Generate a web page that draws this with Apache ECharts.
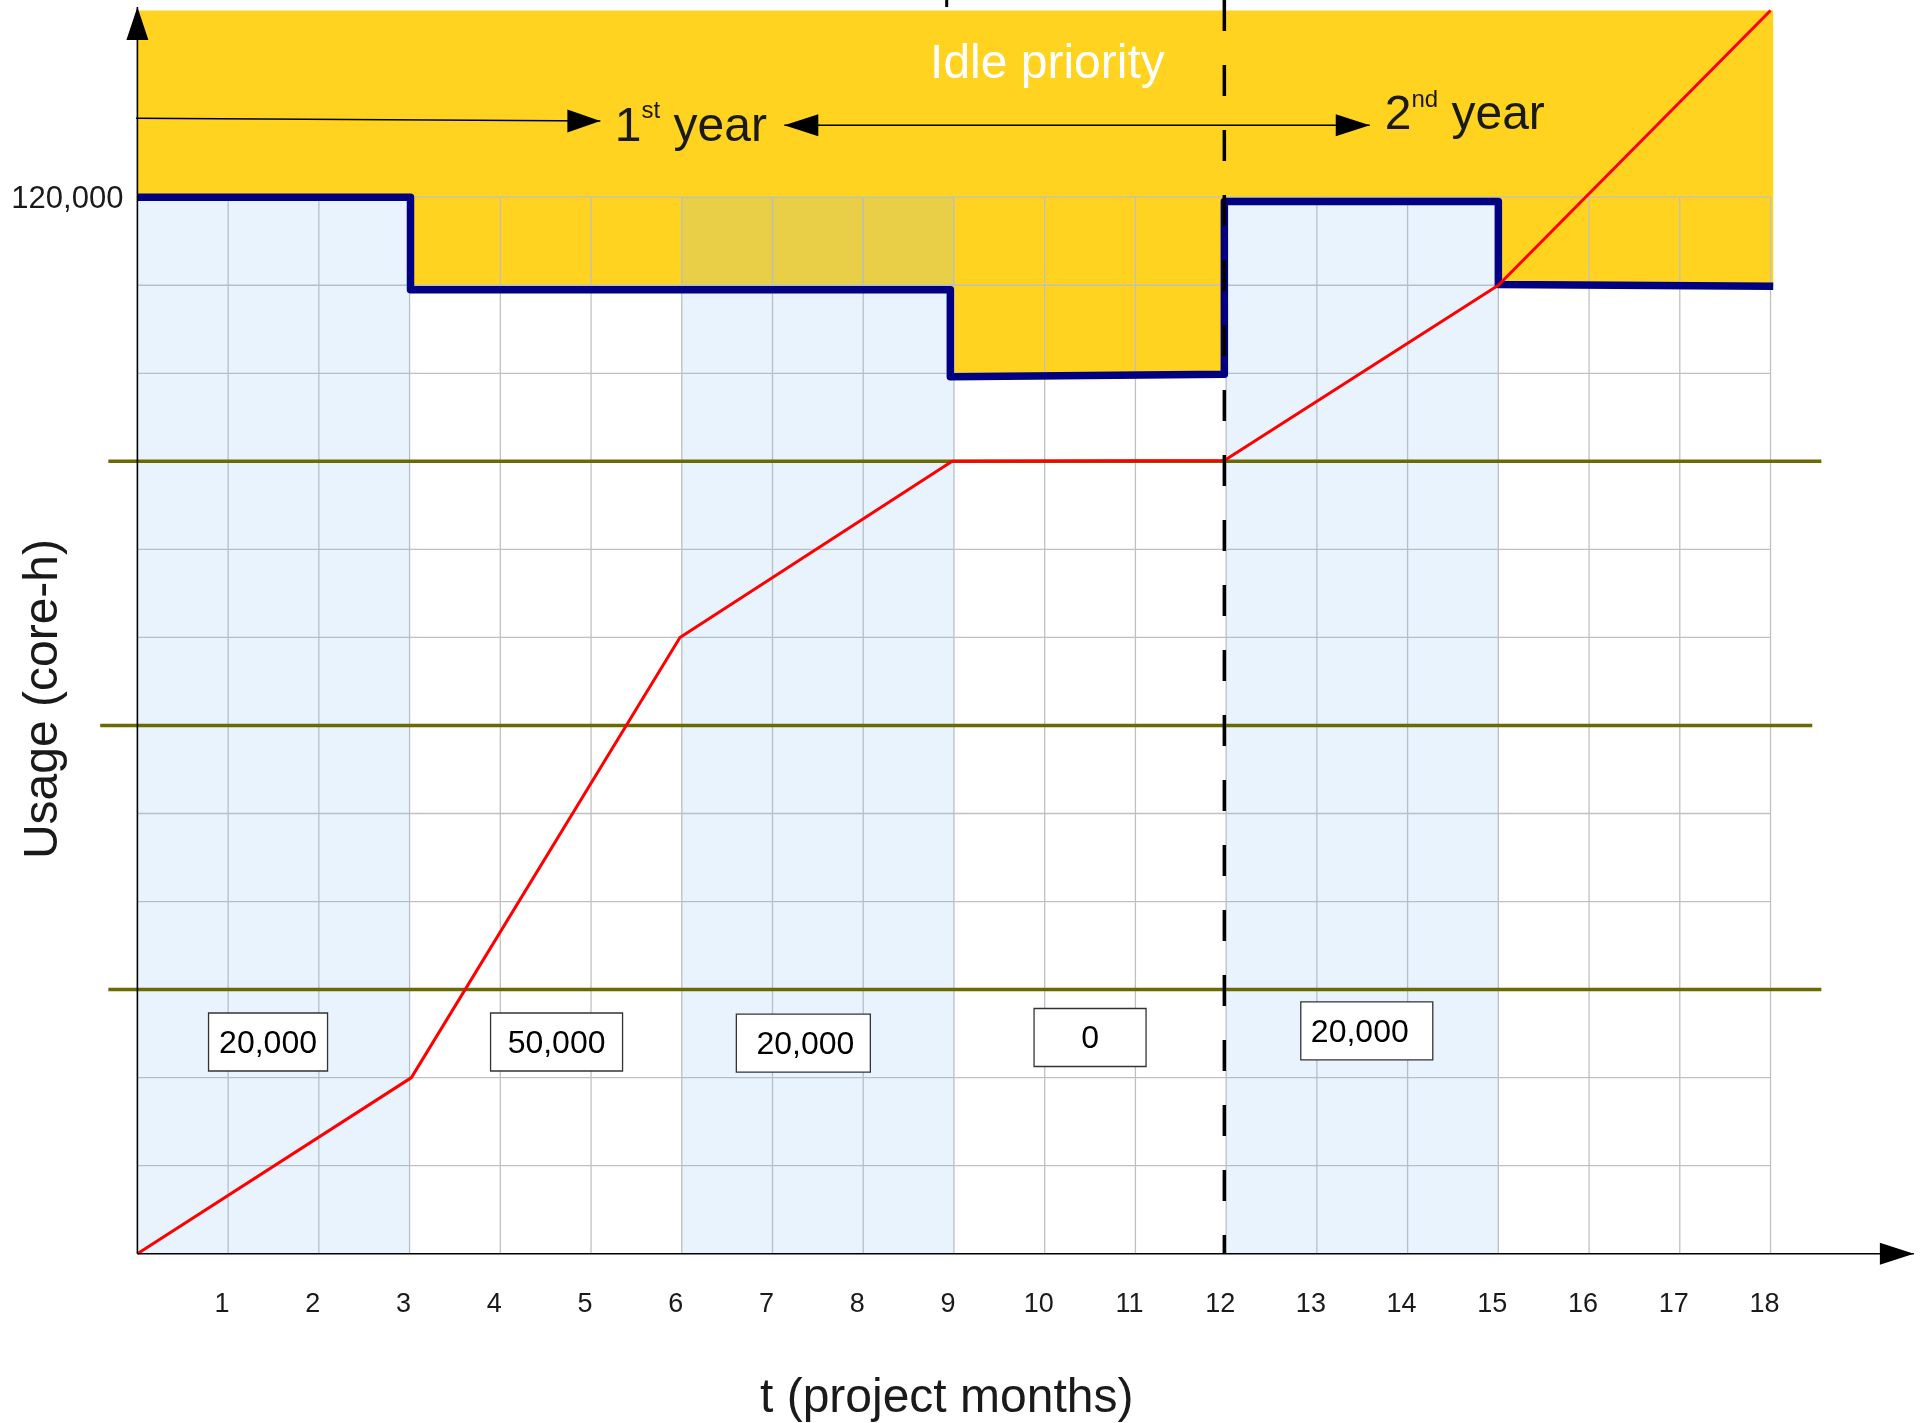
<!DOCTYPE html>
<html>
<head>
<meta charset="utf-8">
<script src="https://cdn.jsdelivr.net/npm/echarts@6/dist/echarts.min.js"></script>
<style>html,body{margin:0;padding:0;background:#fff}#c{width:1924px;height:1423px}</style>
</head>
<body>
<div id="c"></div>
<script>
// ---------------- data ----------------
const monthTicks = [1,2,3,4,5,6,7,8,9,10,11,12,13,14,15,16,17,18];
const yTickLabels = [120000];
const gridValues = [10000,20000,30000,40000,50000,60000,70000,80000,90000,100000,110000,120000];
const gridMonthEnd = 18;
const gridValueTop = 120000;

// cumulative usage (red)
const usage = [[0,0],[3.02,20000],[5.98,70000],[8.98,90000],[11.98,90100],[15,110000],[18,141200]];
// allocation step line (navy)
const allocation = [[0,120000],[3.01,120000],[3.01,109500],[8.96,109500],[8.96,99600],[11.98,99900],[11.98,119500],[15,119500],[15,110100],[18.03,109900]];
// idle-priority region top
const idleTop = 141200;
const idleRight = 18.03;
// quarterly shaded bands
const bands = [[0,3],[6,9],[12,15]];
const bandTop = 120000;
// threshold lines (olive)
const thresholdValues = [90000, 60000, 30000];
const thresholdStart = [-0.32, -0.41, -0.32];
const thresholdEnd = [18.56, 18.46, 18.56];
// year boundary
const yearBoundary = 11.98;
// quarterly allocation labels
const budgetLabels = ['20,000','50,000','20,000','0','20,000'];
const budgetAnchors = [[1.44,24050],[4.62,24050],[7.34,23930],[10.5,24560],[13.55,25300]];

// text annotations (anchor in data units)
const noteTexts = ['Idle priority', '1st year', '2nd year', 't (project months)', 'Usage (core-h)'];
const noteAnchors = [[10.03,135500],[6.10,128380],[14.63,129680],[8.92,-16050],[-1.07,63000]];

// ---------------- layout / style ----------------
const FONT = '"Liberation Sans", Arial, Helvetica, sans-serif';
const TXT = '#1a1a1a';
const boxWidths = [119,132,134,112,132];
const boxTextShift = [0,0,2,0,-7];

const chart = echarts.init(document.getElementById('c'), null, {renderer:'canvas'});

const yellowPoly = [[0,idleTop],[idleRight,idleTop]].concat(allocation.slice().reverse());

function tip(pt, dir, w, len) {
  const rot = {right:-90, left:90, up:0, down:180}[dir];
  const off = {right:[-len/2,0], left:[len/2,0], up:[0,len/2], down:[0,-len/2]}[dir];
  return {value: pt, symbol:'triangle', symbolSize:[w,len], symbolRotate:rot, symbolOffset:off};
}
function plain(pt) { return {value: pt, symbol:'none'}; }
function arrowSeries(points, width, z) {
  return {type:'line', data:points, showSymbol:true, clip:false, silent:true, animation:false, z:z,
    lineStyle:{color:'#000', width:width}, itemStyle:{color:'#000'}};
}

const option = {
  animation:false,
  backgroundColor:'#ffffff',
  textStyle:{fontFamily:FONT},
  grid:{left:1.3, right:8.3, top:0, bottom:2, containLabel:false, outerBoundsMode:'none'},
  xAxis:{type:'value', min:-1.5, max:19.6,
    axisLine:{show:false}, axisTick:{show:false}, splitLine:{show:false}, axisLabel:{show:false}},
  yAxis:{type:'value', min:-19000, max:142400,
    axisLine:{show:false}, axisTick:{show:false}, splitLine:{show:false}, axisLabel:{show:false}},
  series:[
    // idle priority (yellow) region
    {type:'custom', z:1, silent:true, animation:false, data:[[0,0]],
      renderItem:(params, api) => ({type:'polygon', shape:{points: yellowPoly.map(p => api.coord(p))}, style:{fill:'#ffd320'}})},
    // grid lines
    {type:'custom', z:2, silent:true, animation:false, data:[[0,0]],
      renderItem:(params, api) => {
        const ch = [];
        monthTicks.forEach(m => {
          const a = api.coord([m,0]), b = api.coord([m,gridValueTop]);
          ch.push({type:'line', shape:{x1:a[0],y1:a[1],x2:b[0],y2:b[1]}, style:{stroke:'#c0c0c0', lineWidth:1.3}});
        });
        gridValues.forEach(v => {
          const a = api.coord([0,v]), b = api.coord([gridMonthEnd,v]);
          ch.push({type:'line', shape:{x1:a[0],y1:a[1],x2:b[0],y2:b[1]}, style:{stroke:'#c0c0c0', lineWidth:1.3}});
        });
        return {type:'group', children:ch};
      }},
    // shaded quarters
    {type:'custom', z:3, silent:true, animation:false, data:bands,
      renderItem:(params, api) => {
        const a = api.coord([api.value(0), bandTop]), b = api.coord([api.value(1), 0]);
        return {type:'rect', shape:{x:a[0], y:a[1], width:b[0]-a[0], height:b[1]-a[1]}, style:{fill:'rgba(131,188,244,0.185)'}};
      }},
    // thresholds
    {type:'custom', z:4, silent:true, animation:false, data:thresholdValues.map((v,i)=>[thresholdStart[i], thresholdEnd[i], v]),
      renderItem:(params, api) => {
        const a = api.coord([api.value(0), api.value(2)]), b = api.coord([api.value(1), api.value(2)]);
        return {type:'line', shape:{x1:a[0],y1:a[1],x2:b[0],y2:b[1]}, style:{stroke:'#6a6a00', lineWidth:3.5}};
      }},
    // allocation step line
    {type:'line', z:5, data:allocation, showSymbol:false, silent:true, clip:false,
      lineStyle:{color:'#000080', width:7.5, join:'round'}},
    // cumulative usage
    {type:'line', z:6, data:usage, showSymbol:false, silent:true, clip:false,
      lineStyle:{color:'#ff0000', width:3}},
    // year boundary dashed
    {type:'line', z:7, data:[[yearBoundary,142400],[yearBoundary,0]], showSymbol:false, silent:true, clip:false,
      lineStyle:{color:'#000', width:3.5, type:[31,34]}},
    // axes with arrows
    arrowSeries([plain([0,0]), tip([0,141600],'up',22,33)], 1.6, 8),
    arrowSeries([plain([0,0]), tip([19.58,0],'right',22,34)], 1.6, 8),
    // year arrows
    arrowSeries([plain([-0.015,128960]), tip([5.103,128655],'right',23,33)], 1.5, 8),
    arrowSeries([tip([7.13,128170],'left',22,34), tip([13.583,128170],'right',22,34)], 1.5, 8),
    // small tick at top
    arrowSeries([plain([8.92,142400]), plain([8.92,141600])], 3, 8)
  ]
};
chart.setOption(option);

// ---- texts, tick labels and boxes placed through the chart's own scales ----
const px = p => chart.convertToPixel({gridIndex:0}, p);
const els = [];
function txt(text, x, y, size, color, extra) {
  const el = {type:'text', x:x, y:y, z:100, silent:true,
    style:Object.assign({text:text, fill:color, fontSize:size, fontFamily:FONT, align:'center', verticalAlign:'middle'}, (extra && extra.style) || {})};
  if (extra && extra.rotation != null) el.rotation = extra.rotation;
  els.push(el);
}
// x tick labels
monthTicks.forEach(m => { const p = px([m,0]); txt(String(m), p[0]-6, p[1]+51, 27, TXT); });
// y tick label
yTickLabels.forEach(v => { const p = px([0,v]); txt(v.toLocaleString('en-US'), p[0]-14, p[1]+2, 31, TXT, {style:{align:'right'}}); });
// annotations
const rich = {
  m:{fontSize:48, lineHeight:56, fill:TXT, fontFamily:FONT},
  s:{fontSize:24, lineHeight:32, fill:TXT, fontFamily:FONT, verticalAlign:'top'}
};
function supText(s) { const m = s.match(/^(\d)(st|nd|rd|th)( .*)$/); return m ? '{m|' + m[1] + '}{s|' + m[2] + '}{m|' + m[3] + '}' : s; }
noteTexts.forEach((t,i) => {
  const p = px(noteAnchors[i]);
  if (i === 0) txt(t, p[0], p[1]+4, 48, '#ffffff');
  else if (i === 1 || i === 2) txt(supText(t), p[0], p[1]+4, 48, TXT, {style:{rich:rich}});
  else if (i === 3) txt(t, p[0], p[1]+4, 48, TXT);
  else txt(t, p[0]+3, p[1], 48, TXT, {rotation:Math.PI/2});
});
// budget boxes
budgetLabels.forEach((t,i) => {
  const p = px(budgetAnchors[i]);
  const w = boxWidths[i], h = 58;
  els.push({type:'rect', z:99, silent:true, shape:{x:p[0]-w/2, y:p[1]-h/2, width:w, height:h},
    style:{fill:'#ffffff', stroke:'#333333', lineWidth:1.3}});
  txt(t, p[0] + boxTextShift[i], p[1]+2, 32, '#000000');
});
chart.setOption({graphic:{elements:els}});
</script>
</body>
</html>
